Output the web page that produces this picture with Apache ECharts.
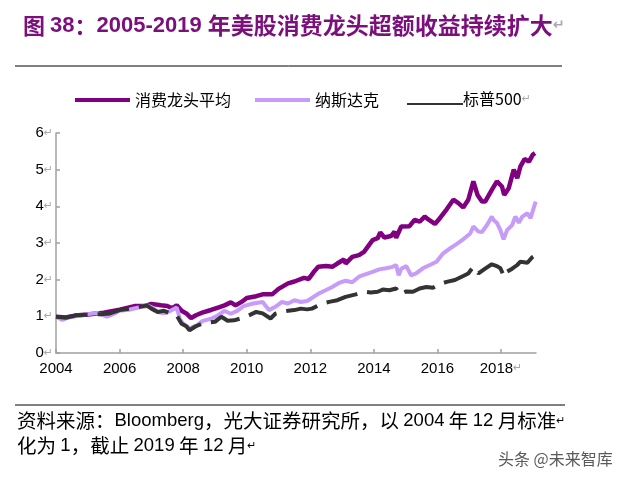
<!DOCTYPE html>
<html>
<head>
<meta charset="utf-8">
<script src="https://cdn.jsdelivr.net/npm/echarts@6/dist/echarts.min.js"></script>
<style>
  html, body { margin: 0; padding: 0; background: #fff; }
  #chart { width: 623px; height: 478px; }
</style>
</head>
<body>
<div id="chart"></div>
<script>
// [year, value] — normalised to 1 at Dec 2004
const consumerLeaders = [
  [2004.0,0.99],[2004.3,0.97],[2004.6,1.02],[2005.0,1.05],[2005.5,1.10],[2006.0,1.18],[2006.5,1.28],
  [2006.8,1.28],[2007.0,1.34],[2007.3,1.30],[2007.5,1.28],[2007.65,1.22],[2007.8,1.30],[2007.95,1.15],
  [2008.1,1.08],[2008.25,0.95],[2008.4,1.03],[2008.6,1.10],[2008.9,1.18],[2009.1,1.24],[2009.3,1.30],
  [2009.5,1.38],[2009.65,1.30],[2009.85,1.40],[2010.0,1.50],[2010.3,1.55],[2010.5,1.60],[2010.8,1.60],
  [2011.0,1.75],[2011.3,1.90],[2011.5,1.95],[2011.8,2.05],[2011.95,2.02],[2012.1,2.20],[2012.25,2.35],
  [2012.5,2.37],[2012.69,2.35],[2012.85,2.44],[2013.06,2.55],[2013.11,2.44],[2013.32,2.62],[2013.53,2.67],
  [2013.69,2.76],[2013.96,3.08],[2014.12,3.13],[2014.2,3.29],[2014.33,3.15],[2014.54,3.19],[2014.65,3.31],
  [2014.7,3.14],[2014.86,3.45],[2015.12,3.46],[2015.28,3.63],[2015.44,3.58],[2015.6,3.72],[2015.7,3.65],
  [2015.92,3.52],[2016.07,3.67],[2016.29,3.92],[2016.5,4.18],[2016.66,4.09],[2016.81,3.97],[2016.97,4.18],
  [2017.13,4.68],[2017.26,4.31],[2017.4,4.13],[2017.5,4.13],[2017.71,4.45],[2017.87,4.68],[2018.03,4.54],
  [2018.1,4.31],[2018.24,4.49],[2018.4,5.00],[2018.51,4.77],[2018.61,5.09],[2018.74,5.29],[2018.88,5.22],
  [2019.0,5.41],[2019.07,5.45]
];

const nasdaq = [
  [2004.0,0.99],[2004.2,0.90],[2004.4,0.97],[2004.8,1.03],[2005.0,1.06],[2005.3,1.09],[2005.6,0.99],
  [2005.8,1.06],[2006.0,1.15],[2006.3,1.18],[2006.6,1.24],[2006.85,1.30],[2007.0,1.25],[2007.2,1.12],
  [2007.4,1.08],[2007.6,1.15],[2007.8,1.24],[2007.9,0.92],[2008.0,0.80],[2008.2,0.67],[2008.45,0.76],
  [2008.6,0.87],[2008.9,0.94],[2009.1,1.03],[2009.3,1.15],[2009.5,1.07],[2009.7,1.15],[2009.9,1.28],
  [2010.2,1.35],[2010.5,1.39],[2010.7,1.17],[2010.9,1.26],[2011.1,1.39],[2011.3,1.35],[2011.5,1.44],
  [2011.7,1.39],[2011.9,1.42],[2012.05,1.50],[2012.26,1.62],[2012.48,1.71],[2012.69,1.80],[2012.9,1.91],
  [2013.11,1.97],[2013.32,1.93],[2013.53,2.08],[2013.75,2.15],[2013.96,2.21],[2014.17,2.28],[2014.38,2.31],
  [2014.59,2.35],[2014.7,2.40],[2014.78,2.12],[2014.86,2.30],[2015.02,2.37],[2015.17,2.12],[2015.33,2.17],
  [2015.54,2.31],[2015.76,2.40],[2015.97,2.49],[2016.18,2.72],[2016.39,2.85],[2016.6,2.97],[2016.81,3.10],
  [2017.03,3.26],[2017.13,3.45],[2017.29,3.31],[2017.4,3.30],[2017.56,3.49],[2017.71,3.72],[2017.77,3.62],
  [2017.87,3.55],[2017.98,3.35],[2018.08,3.10],[2018.19,3.35],[2018.35,3.49],[2018.45,3.72],[2018.56,3.55],
  [2018.67,3.72],[2018.83,3.81],[2018.93,3.68],[2019.04,3.99],[2019.09,4.13]
];

const sp500 = [
  [2004.0,0.99],[2004.3,0.96],[2004.65,1.03],[2005.0,1.04],[2005.4,1.06],[2005.7,1.08],[2006.0,1.17],
  [2006.3,1.21],[2006.6,1.25],[2006.85,1.30],[2007.0,1.21],[2007.2,1.12],[2007.4,1.15],[2007.6,1.08],
  [2007.8,1.02],[2007.95,0.80],[2008.1,0.73],[2008.2,0.62],[2008.4,0.73],[2008.6,0.80],[2008.8,0.83],
  [2009.0,0.85],[2009.2,0.99],[2009.4,0.88],[2009.6,0.89],[2009.8,0.94],[2010.0,1.00],[2010.3,1.12],
  [2010.5,1.08],[2010.75,0.94],[2010.9,1.07],[2011.1,1.12],[2011.3,1.15],[2011.5,1.17],[2011.7,1.21],
  [2011.9,1.19],[2012.05,1.21],[2012.26,1.30],[2012.42,1.36],[2012.63,1.40],[2012.85,1.44],[2013.11,1.53],
  [2013.43,1.60],[2013.69,1.67],[2013.9,1.65],[2014.12,1.67],[2014.28,1.73],[2014.49,1.71],[2014.7,1.76],
  [2014.8,1.60],[2015.02,1.68],[2015.23,1.67],[2015.44,1.76],[2015.65,1.80],[2015.86,1.78],[2016.07,1.88],
  [2016.29,1.94],[2016.55,1.99],[2016.81,2.10],[2016.97,2.17],[2017.13,2.35],[2017.29,2.17],[2017.5,2.30],
  [2017.71,2.42],[2017.87,2.37],[2017.98,2.31],[2018.1,2.08],[2018.19,2.22],[2018.35,2.30],[2018.51,2.40],
  [2018.61,2.49],[2018.83,2.46],[2018.98,2.61],[2019.09,2.67]
];

const xTicks = [2004, 2006, 2008, 2010, 2012, 2014, 2016, 2018];
const seriesNames = ['消费龙头平均', '纳斯达克', '标普500'];

const SANS = '"Liberation Sans", Arial, "Noto Sans CJK SC", sans-serif';
const CJK = '"Noto Sans CJK SC", "Liberation Sans", sans-serif';
const RET = { color: '#a8a8a8', fontSize: 11, fontFamily: 'DejaVu Sans' };

const chart = echarts.init(document.getElementById('chart'), null, { renderer: 'canvas' });

chart.setOption({
  backgroundColor: '#fff',
  animation: false,
  title: {
    left: 18,
    top: 9,
    text: '{c|图 }{a|38}{c|：}{a|2005-2019 }{b|年美股消费龙头超额收益持续扩大}{r|↵}',
    textStyle: {
      rich: {
        a: { fontFamily: SANS, fontWeight: 'bold', fontSize: 22, color: '#7b0f7b' },
        c: { fontFamily: CJK, fontWeight: 'bold', fontSize: 22, color: '#7b0f7b' },
        b: { fontFamily: CJK, fontWeight: 'bold', fontSize: 23, color: '#7b0f7b' },
        r: { ...RET, fontSize: 14 }
      }
    }
  },
  legend: [{
    data: seriesNames.slice(0, 2),
    left: 70,
    top: 87,
    icon: 'rect',
    itemWidth: 55,
    itemHeight: 4,
    itemGap: 24,
    textStyle: { fontFamily: CJK, fontSize: 16, color: '#000' }
  }, {
    data: seriesNames.slice(2),
    left: 402,
    top: 86,
    icon: 'rect',
    itemWidth: 56,
    itemHeight: 2,
    formatter: n => n + '{r|↵}',
    textStyle: {
      fontFamily: CJK, fontSize: 16, color: '#000',
      padding: [0, 0, 10, -5],
      rich: { r: RET }
    }
  }],
  grid: { left: 56, right: 87, top: 133, bottom: 125 },
  xAxis: {
    type: 'value',
    min: 2004,
    max: 2019.1,
    interval: 2,
    splitLine: { show: false },
    axisLine: { lineStyle: { color: '#a0a0a0', width: 1.5 } },
    axisTick: { show: true, inside: true, length: 4, customValues: xTicks, lineStyle: { color: '#a0a0a0', width: 1.5 } },
    axisLabel: {
      customValues: xTicks,
      margin: 8,
      fontFamily: SANS,
      fontSize: 15,
      color: '#000',
      formatter: v => v === 2018 ? '2018{r|↵}' : String(v),
      rich: { r: RET }
    }
  },
  yAxis: {
    type: 'value',
    min: 0,
    max: 6,
    interval: 1,
    splitLine: { show: false },
    axisLine: { show: true, lineStyle: { color: '#a0a0a0', width: 1.5 } },
    axisTick: { show: true, inside: true, length: 4, lineStyle: { color: '#a0a0a0', width: 1.5 } },
    axisLabel: {
      margin: 3,
      fontFamily: SANS,
      fontSize: 15,
      color: '#000',
      formatter: v => v + '{r|↵}',
      rich: { r: RET }
    }
  },
  series: [{
    name: seriesNames[0],
    type: 'line',
    data: consumerLeaders,
    symbol: 'none',
    itemStyle: { color: '#800080' },
    lineStyle: { color: '#800080', width: 4.5 }
  }, {
    name: seriesNames[1],
    type: 'line',
    data: nasdaq,
    symbol: 'none',
    itemStyle: { color: '#c79cf8' },
    lineStyle: { color: '#c79cf8', width: 4 }
  }, {
    name: seriesNames[2],
    type: 'line',
    data: sp500,
    symbol: 'none',
    itemStyle: { color: '#333333' },
    lineStyle: { color: '#333333', width: 4, type: [32, 10], cap: 'butt' }
  }],
  graphic: [
    { type: 'line', shape: { x1: 15, y1: 66, x2: 562, y2: 66 }, style: { stroke: '#000', lineWidth: 1 } },
    { type: 'line', shape: { x1: 15, y1: 405, x2: 565, y2: 405 }, style: { stroke: '#000', lineWidth: 1 } },
    {
      type: 'text', left: 17, top: 411,
      style: {
        text: '{c|资料来源：}{l|Bloomberg}{c|，光大证券研究所，以 }{l|2004}{c| 年 }{l|12}{c| 月标准}{r|↵}',
        rich: {
          c: { fontFamily: CJK, fontSize: 19.5, fill: '#000' },
          l: { fontFamily: SANS, fontSize: 18.5, fill: '#000' },
          r: RET
        }
      }
    },
    {
      type: 'text', left: 17, top: 436,
      style: {
        text: '{c|化为 }{l|1}{c|，截止 }{l|2019}{c| 年 }{l|12}{c| 月}{r|↵}',
        rich: {
          c: { fontFamily: CJK, fontSize: 19.5, fill: '#000' },
          l: { fontFamily: SANS, fontSize: 18.5, fill: '#000' },
          r: RET
        }
      }
    },
    {
      type: 'text', left: 498, top: 451,
      style: { text: '头条 @未来智库', font: '16px "Noto Sans CJK SC"', fill: '#5a5a5a' }
    }
  ]
});
</script>
</body>
</html>
